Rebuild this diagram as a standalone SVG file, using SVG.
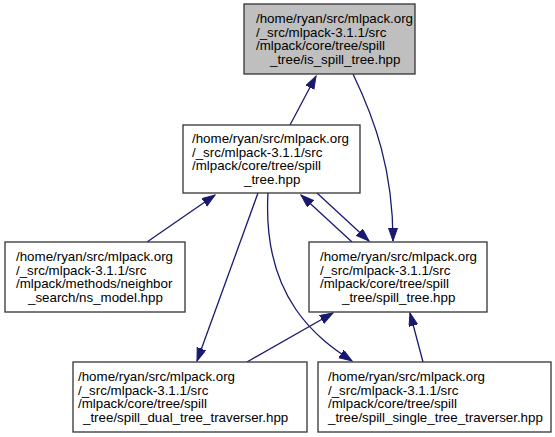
<svg xmlns="http://www.w3.org/2000/svg" width="555" height="437" viewBox="0 0 555 437">
<style>
.box{fill:#ffffff;stroke:#333333;stroke-width:1.3}
.cur{fill:#bfbfbf}
.t{font-family:"Liberation Sans",Arial,sans-serif;font-size:13.33px;fill:#000000}
.e{fill:none;stroke:#191970;stroke-width:1.3;marker-end:url(#ah)}
</style>
<defs>
<marker id="ah" markerUnits="userSpaceOnUse" markerWidth="16" markerHeight="12" refX="13" refY="4.5" orient="auto">
<path d="M0,0 L13,4.5 L0,9 z" fill="#191970" stroke="#191970" stroke-width="1"/>
</marker>
</defs>
<g id="edges">
<path class="e" d="M290,125 L316,76"/>
<path class="e" d="M353,74 C375,120 393,170 393,241"/>
<path class="e" d="M352,242 L301,195"/>
<path class="e" d="M317,193 L369,241"/>
<path class="e" d="M147,242 L215,195"/>
<path class="e" d="M258,193 L197,361"/>
<path class="e" d="M268,193 C262,300 320,340 352,361"/>
<path class="e" d="M247,362 L333,313"/>
<path class="e" d="M423,362 L410,313"/>
</g>
<g id="node1">
<rect class="box cur" x="244" y="4" width="171" height="70"/>
<text class="t" x="256" y="23">/home/ryan/src/mlpack.org</text>
<text class="t" x="256" y="37">/_src/mlpack-3.1.1/src</text>
<text class="t" x="256" y="50">/mlpack/core/tree/spill</text>
<text class="t" x="270" y="64">_tree/is_spill_tree.hpp</text>
</g>
<g id="node2">
<rect class="box" x="183" y="125" width="177" height="68"/>
<text class="t" x="192" y="143">/home/ryan/src/mlpack.org</text>
<text class="t" x="192" y="157">/_src/mlpack-3.1.1/src</text>
<text class="t" x="192" y="170">/mlpack/core/tree/spill</text>
<text class="t" x="244" y="184">_tree.hpp</text>
</g>
<g id="node3">
<rect class="box" x="5" y="242" width="180" height="70"/>
<text class="t" x="16" y="261">/home/ryan/src/mlpack.org</text>
<text class="t" x="16" y="275">/_src/mlpack-3.1.1/src</text>
<text class="t" x="16" y="288">/mlpack/methods/neighbor</text>
<text class="t" x="28" y="302">_search/ns_model.hpp</text>
</g>
<g id="node4">
<rect class="box" x="309" y="242" width="178" height="70"/>
<text class="t" x="320" y="261">/home/ryan/src/mlpack.org</text>
<text class="t" x="320" y="275">/_src/mlpack-3.1.1/src</text>
<text class="t" x="320" y="288">/mlpack/core/tree/spill</text>
<text class="t" x="342" y="302">_tree/spill_tree.hpp</text>
</g>
<g id="node5">
<rect class="box" x="73" y="362" width="234" height="70"/>
<text class="t" x="78" y="381">/home/ryan/src/mlpack.org</text>
<text class="t" x="78" y="395">/_src/mlpack-3.1.1/src</text>
<text class="t" x="78" y="408">/mlpack/core/tree/spill</text>
<text class="t" x="83" y="422">_tree/spill_dual_tree_traverser.hpp</text>
</g>
<g id="node6">
<rect class="box" x="318" y="362" width="233" height="70"/>
<text class="t" x="328" y="381">/home/ryan/src/mlpack.org</text>
<text class="t" x="328" y="395">/_src/mlpack-3.1.1/src</text>
<text class="t" x="328" y="408">/mlpack/core/tree/spill</text>
<text class="t" x="328" y="422">_tree/spill_single_tree_traverser.hpp</text>
</g>
</svg>
